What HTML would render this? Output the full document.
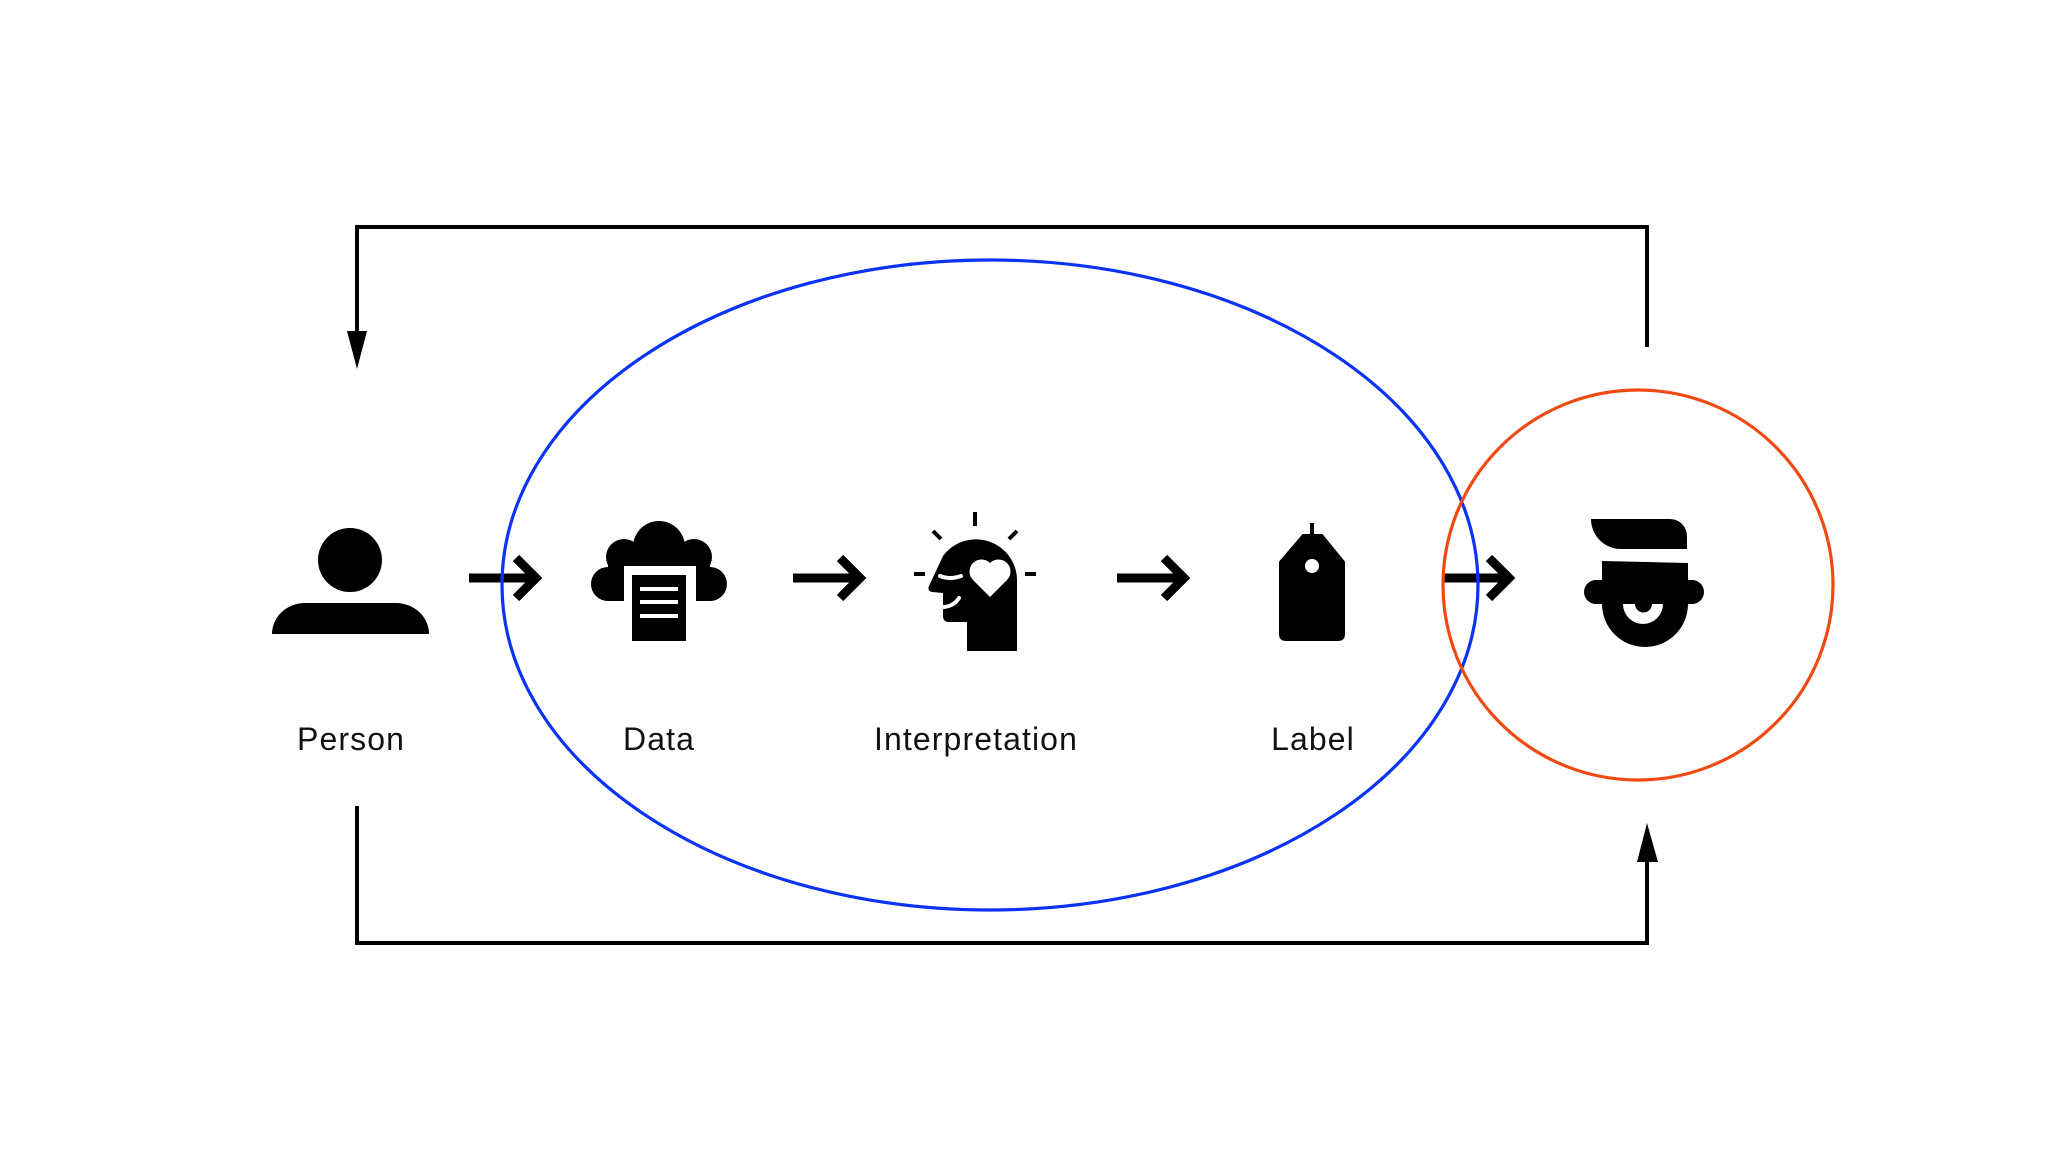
<!DOCTYPE html>
<html>
<head>
<meta charset="utf-8">
<style>
  html, body { margin: 0; padding: 0; background: #ffffff; }
  body { width: 2048px; height: 1171px; overflow: hidden; }
  svg { display: block; }
  text { font-family: "Liberation Sans", "DejaVu Sans", sans-serif; font-size: 32px; fill: #111; letter-spacing: 1.1px; }
</style>
</head>
<body>
<svg width="2048" height="1171" viewBox="0 0 2048 1171" xmlns="http://www.w3.org/2000/svg">
  <rect x="0" y="0" width="2048" height="1171" fill="#ffffff"/>

  <!-- feedback loop lines -->
  <path d="M357 333 L357 227 L1647 227 L1647 347" fill="none" stroke="#000" stroke-width="4"/>
  <polygon points="347,331 367,331 357,369" fill="#000"/>
  <path d="M357 806 L357 943 L1647 943 L1647 860" fill="none" stroke="#000" stroke-width="4"/>
  <polygon points="1637,862 1658,862 1647,823" fill="#000"/>

  <!-- Person icon -->
  <circle cx="350" cy="560" r="32" fill="#000"/>
  <path d="M272 634 A33 31 0 0 1 305 603 L396 603 A33 31 0 0 1 429 634 Z" fill="#000"/>

  <!-- Data icon (cloud + document) -->
  <g fill="#000">
    <circle cx="659" cy="547" r="26"/>
    <circle cx="624" cy="557" r="18"/>
    <circle cx="694" cy="557" r="18"/>
    <circle cx="608" cy="584" r="17"/>
    <circle cx="710" cy="584" r="17"/>
    <rect x="608" y="550" width="102" height="51"/>
  </g>
  <rect x="624" y="566" width="72" height="40" fill="#fff"/>
  <rect x="632" y="575" width="54" height="66" fill="#000"/>
  <g fill="#fff">
    <rect x="640" y="587" width="38" height="4"/>
    <rect x="640" y="600" width="38" height="4"/>
    <rect x="640" y="614" width="38" height="4"/>
  </g>

  <!-- Interpretation icon (head with heart) -->
  <g stroke="#000" stroke-width="4" stroke-linecap="butt" fill="none">
    <line x1="975" y1="512" x2="975" y2="526"/>
    <line x1="933" y1="531" x2="941" y2="539"/>
    <line x1="1017" y1="531" x2="1009" y2="539"/>
    <line x1="914" y1="574" x2="925" y2="574"/>
    <line x1="1025" y1="574" x2="1036" y2="574"/>
  </g>
  <path d="M943 556 A41 41 0 0 1 1017 580 L1017 651 L967 651 L967 622 L949 622 Q943 622 943 616 L943 593 L932 592 Q927 591 929 586 Z" fill="#000"/>
  <path d="M940 576 Q950 580 961 576" stroke="#fff" stroke-width="4" fill="none" stroke-linecap="round"/>
  <path d="M944 607 Q954 606 959 598" stroke="#fff" stroke-width="4" fill="none" stroke-linecap="round"/>
  <g fill="#fff">
    <polygon points="973,580 990,597 1007,580 990,563"/>
    <circle cx="981.5" cy="571.5" r="12"/>
    <circle cx="998.5" cy="571.5" r="12"/>
  </g>

  <!-- Label icon (tag) -->
  <rect x="1310" y="523" width="4" height="14" fill="#000"/>
  <path d="M1303 535 L1322 535 L1344 562 L1344 634 Q1344 640 1338 640 L1286 640 Q1280 640 1280 634 L1280 562 Z" fill="#000" stroke="#000" stroke-width="2" stroke-linejoin="round"/>
  <circle cx="1312" cy="566" r="7" fill="#fff"/>

  <!-- Spy icon -->
  <g fill="#000">
    <path d="M1591 519 L1670 519 A17 17 0 0 1 1687 536 L1687 549 L1621 549 A30 30 0 0 1 1591 519 Z"/>
    <path d="M1602 561 L1688 563 L1688 604 A43 43 0 0 1 1602 604 Z"/>
    <rect x="1584" y="580" width="120" height="24" rx="12" ry="12"/>
  </g>
  <path d="M1623 604 A20 20 0 0 0 1663 604 Z" fill="#fff"/>
  <path d="M1635 604 A8.5 8.5 0 0 0 1652 604 Z" fill="#000"/>

  <!-- Process arrows -->
  <g fill="none" stroke="#000" stroke-width="9" stroke-linejoin="miter">
    <line x1="469" y1="578" x2="536" y2="578"/>
    <polyline points="516,558 536,578 516,598"/>
    <line x1="793" y1="578" x2="860" y2="578"/>
    <polyline points="840,558 860,578 840,598"/>
    <line x1="1117" y1="578" x2="1184" y2="578"/>
    <polyline points="1164,558 1184,578 1164,598"/>
    <line x1="1442" y1="578" x2="1509" y2="578"/>
    <polyline points="1489,558 1509,578 1489,598"/>
  </g>

  <!-- Ellipse and circle -->
  <ellipse cx="990" cy="585" rx="488" ry="325" fill="none" stroke="#0a33f5" stroke-width="3.2"/>
  <circle cx="1638" cy="585" r="195" fill="none" stroke="#f04a12" stroke-width="3.2"/>

  <!-- Labels -->
  <text x="351" y="750" text-anchor="middle">Person</text>
  <text x="659" y="750" text-anchor="middle">Data</text>
  <text x="976" y="750" text-anchor="middle">Interpretation</text>
  <text x="1313" y="750" text-anchor="middle">Label</text>
</svg>
</body>
</html>
